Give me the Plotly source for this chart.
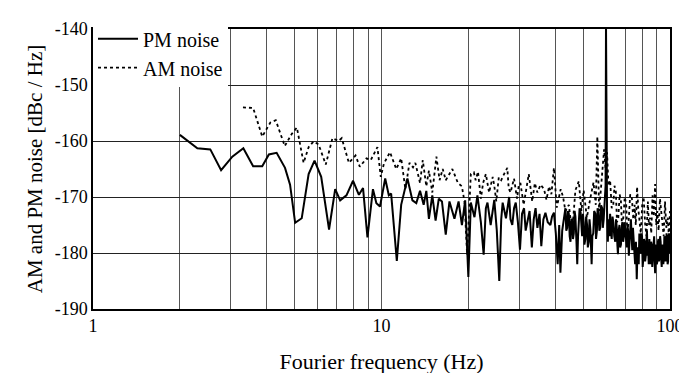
import plotly.graph_objects as go

pm_freq = [2.00, 2.30, 2.55, 2.78, 3.04, 3.32, 3.59, 3.86, 4.07, 4.33, 4.63, 4.82, 5.02, 5.29, 5.59,
           5.86, 6.18, 6.58, 6.91, 7.19, 7.56, 7.97, 8.35, 8.63, 8.94, 9.34, 9.60, 9.88, 10.3, 10.6,
           10.8, 11.3, 11.7, 12.0, 12.3, 12.8, 13.2, 13.6, 14.0, 14.3, 14.6, 15.0, 15.4, 15.8, 16.2,
           16.7, 17.2, 17.9, 18.5, 19.0, 19.5, 20.0, 20.4, 21.0, 21.5, 22.1, 22.6, 23.0, 23.3, 23.9,
           24.3, 24.6, 25.1, 25.6, 26.0, 26.3, 27.0, 27.4, 27.7, 28.0, 28.4, 28.8, 29.2, 29.7, 30.2,
           30.7, 31.2, 31.6, 32.0, 32.6, 33.2, 33.7, 34.2, 34.7, 35.3, 35.8, 36.4, 37.0, 37.7, 38.5,
           39.0, 39.6, 40.2, 40.8, 41.3, 41.7, 42.3, 42.8,
           43.4, 43.7, 44.0, 44.3, 44.6, 44.9, 45.2, 45.5, 45.8, 46.1, 46.4, 46.7, 47.0, 47.4, 47.7,
           48.0, 48.3, 48.6, 49.0, 49.3, 49.6, 49.9, 50.2, 50.5, 50.9, 51.2, 51.6, 51.9, 52.3, 52.6,
           53.0, 53.5, 53.8, 54.2, 54.6, 55.1, 55.4, 55.8, 56.1, 56.5, 56.9, 57.3, 57.7, 58.2, 58.5,
           58.9, 59.2, 59.5, 59.8, 60.0, 60.2,
           60.5, 60.9, 61.2, 61.6, 62.0, 62.4, 62.8, 63.2, 63.6, 64.1, 64.6, 65.0, 65.4, 65.7, 66.0,
           66.4, 66.8, 67.2, 67.6, 68.0, 68.4, 68.8, 69.2, 69.6, 70.0, 70.4, 70.8, 71.2, 71.6, 72.0,
           72.4, 72.8, 73.2, 73.6, 74.0, 74.4, 74.8, 75.2, 75.7, 76.2, 76.7, 77.1, 77.5, 77.9, 78.3,
           78.7, 79.1, 79.5, 80.0, 80.4, 80.8, 81.2, 81.6, 82.0, 82.4, 82.8, 83.2, 83.6, 84.0, 84.4,
           84.8, 85.2, 85.6, 86.0, 86.4, 86.8, 87.3, 87.7, 88.1, 88.4, 88.8, 89.2, 89.6, 90.0, 90.4,
           90.8, 91.2, 91.6, 92.0, 92.4, 92.8, 93.2, 93.6, 94.0, 94.4, 94.8, 95.2, 95.6, 96.1, 96.5,
           96.9, 97.3, 97.7, 98.1, 98.5, 98.9, 99.3, 99.7, 100.0]
pm_dbc = [-158.9, -161.3, -161.5, -165.2, -162.8, -161.3, -164.5, -164.5, -162.4, -162.1, -164.8, -167.8, -174.6, -173.8, -165.9,
          -163.5, -166.4, -175.8, -168.6, -170.6, -169.7, -167.1, -169.6, -168.4, -177.2, -168.6, -171.1, -171.7, -166.7, -169.7,
          -169.4, -181.4, -171.4, -169.2, -166.7, -170.6, -171.1, -168.9, -171.4, -168.9, -173.9, -169.7, -174.2, -170.3, -170.8,
          -176.7, -170.8, -173.9, -170.8, -175.0, -170.6, -184.3, -171.0, -173.6, -169.7, -174.5, -180.3, -172.0, -171.0, -175.0,
          -172.5, -170.5, -176.0, -185.0, -174.0, -171.0, -173.8, -171.5, -170.0, -174.0, -175.0, -172.0, -171.0, -174.5, -179.4,
          -173.0, -172.0, -176.0, -174.5, -172.5, -179.0, -174.0, -172.0, -175.5, -173.0, -178.8, -174.0, -172.8, -174.5, -175.0,
          -173.5, -172.8, -176.5, -182.0, -175.0, -183.5, -176.0, -173.8,
          -172.0, -176.0, -175.5, -172.5, -173.0, -177.0, -178.0, -174.0, -174.0, -177.5, -176.5, -172.5, -173.5, -178.0, -182.0,
          -177.0, -175.0, -172.0, -172.8, -176.5, -177.0, -173.0, -174.5, -178.5, -177.5, -173.5, -175.0, -179.0, -178.0, -174.0,
          -176.0, -182.0, -177.0, -176.5, -172.5, -173.0, -177.5, -176.0, -172.0, -172.5, -176.0, -175.5, -171.5, -172.0, -175.5,
          -174.0, -171.0, -171.0, -168.0, -139.0, -170.0,
          -172.5, -178.0, -174.0, -177.0, -173.0, -176.0, -177.5, -173.5, -174.5, -177.0, -178.0, -174.0, -175.5, -178.5, -180.2,
          -176.0, -175.0, -179.0, -178.5, -175.5, -174.5, -178.0, -177.0, -174.5, -175.5, -177.5, -179.0, -175.0, -176.0, -180.5,
          -178.0, -176.0, -174.0, -177.0, -179.5, -175.5, -177.0, -180.0, -182.0, -178.0, -184.7, -180.0, -179.0, -182.0, -176.5,
          -179.5, -180.0, -176.5, -177.0, -182.5, -181.0, -177.5, -178.0, -181.5, -180.5, -178.0, -176.0, -180.5, -179.0, -182.0,
          -177.5, -179.5, -182.0, -178.0, -178.5, -182.5, -180.0, -177.5, -177.0, -181.0, -183.6, -178.5, -179.0, -182.0, -181.5,
          -178.0, -177.5, -181.5, -180.5, -177.0, -178.0, -181.0, -182.5, -178.5, -179.0, -182.0, -181.0, -177.0, -177.5, -181.5,
          -180.0, -176.5, -178.0, -182.0, -181.5, -177.0, -176.5, -180.0, -178.0]

am_freq = [3.31, 3.59, 3.86, 4.12, 4.30, 4.62, 4.89, 5.09, 5.37, 5.59, 5.81, 6.05, 6.41, 6.76, 7.09,
           7.28, 7.71, 8.13, 8.41, 8.87, 9.18, 9.68, 9.94, 10.2, 10.7, 11.25, 11.7, 12.1, 12.5, 12.86,
           13.1, 13.6, 13.9, 14.3, 14.6, 15.0, 15.5, 15.9, 16.3, 16.7, 17.6, 18.4, 19.0, 19.4, 19.8,
           20.4, 20.9, 21.2, 21.6, 22.1, 22.5, 23.0, 23.6, 24.3, 24.6, 25.0, 25.5, 26.0, 26.6, 27.3,
           27.6, 28.0, 28.8, 29.5, 29.9, 30.3, 31.1, 31.8, 32.4, 33.3, 34.0, 34.7, 35.6, 36.6, 37.3,
           38.1, 38.8, 39.6, 40.5, 41.8, 42.6, 43.4, 44.5, 44.6, 45.8, 47.0, 48.3, 49.3, 50.2, 51.5,
           52.9, 54.3, 55.3, 56.0, 56.8, 58.0, 59.1, 59.8,
           60.5, 61.2, 62.0, 62.8, 63.6, 64.2, 64.9, 65.5, 66.2, 66.9, 67.6, 68.2, 68.9, 69.7, 70.5,
           71.1, 71.8, 72.8, 73.8, 74.6, 75.4, 76.1, 76.9, 77.6, 78.3, 79.2, 80.1, 81.0, 82.0, 82.9,
           83.8, 84.5, 85.3, 86.1, 87.0, 87.9, 88.8, 89.6, 90.4, 91.3, 92.3, 93.2, 94.1, 95.1, 96.1,
           97.1, 98.2, 99.1, 100.0]
am_dbc = [-154.0, -154.1, -159.2, -156.7, -156.3, -160.9, -158.7, -157.6, -163.9, -161.1, -160.1, -160.6, -164.2, -159.5, -160.0,
          -159.5, -163.9, -162.6, -164.6, -163.1, -163.4, -161.1, -166.4, -164.0, -162.0, -165.0, -163.1, -168.6, -163.9, -164.7,
          -163.9, -167.5, -163.4, -168.1, -165.3, -169.2, -162.8, -167.0, -165.0, -167.0, -165.0, -167.5, -168.1, -170.9, -180.3,
          -165.9, -165.6, -167.0, -165.5, -170.3, -167.5, -165.9, -169.2, -166.4, -168.0, -170.8, -166.5, -167.0, -165.9, -164.8,
          -168.5, -169.2, -166.7, -170.3, -168.0, -167.5, -171.4, -168.0, -165.9, -170.8, -167.5, -169.2, -167.8, -168.6, -170.5,
          -168.1, -169.5, -164.8, -171.9, -168.6, -170.0, -172.5, -171.4, -171.4, -176.3, -168.8, -167.2, -172.5, -168.8, -173.7,
          -170.3, -167.4, -171.4, -159.2, -172.5, -167.0, -161.5, -164.8,
          -162.0, -168.0, -167.0, -172.0, -171.4, -168.0, -169.0, -174.5, -173.7, -169.5, -170.8, -175.5, -173.7, -170.0, -171.4,
          -176.0, -174.8, -169.5, -170.3, -174.0, -171.4, -175.0, -168.2, -172.0, -173.7, -176.5, -171.4, -170.0, -174.8, -177.0,
          -170.8, -175.0, -173.7, -176.5, -169.7, -173.5, -167.7, -175.0, -172.5, -176.0, -170.3, -173.0, -174.2, -177.0, -170.8,
          -175.5, -173.7, -177.0, -172.5]

x_tickvals = [1, 2, 3, 4, 5, 6, 7, 8, 9, 10, 20, 30, 40, 50, 60, 70, 80, 90, 100]
x_ticktext = ["1", "", "", "", "", "", "", "", "", "10", "", "", "", "", "", "", "", "", "100"]
y_tickvals = [-190, -180, -170, -160, -150, -140]
y_ticktext = ["-190", "-180", "-170", "-160", "-150", "-140"]

font_family = "Liberation Serif, Times New Roman, serif"

fig = go.Figure()
fig.add_trace(go.Scatter(x=pm_freq, y=pm_dbc, mode="lines", name="PM noise",
                         line=dict(color="black", width=2)))
fig.add_trace(go.Scatter(x=am_freq, y=am_dbc, mode="lines", name="AM noise",
                         line=dict(color="black", width=1.8, dash="dot")))

fig.update_layout(
    width=687, height=373,
    margin=dict(l=85, r=23, t=11, b=61),
    paper_bgcolor="white", plot_bgcolor="white",
    font=dict(family=font_family, color="black", size=16),
    showlegend=True,
    legend=dict(x=0, y=1.035, xanchor="left", yanchor="top", bgcolor="white",
                font=dict(size=20, family=font_family), borderwidth=0,
                tracegroupgap=0, itemwidth=40),
    xaxis=dict(type="log", range=[0, 2], tickvals=x_tickvals, ticktext=x_ticktext,
               showgrid=True, gridcolor="#555", gridwidth=1,
               showline=True, linecolor="black", linewidth=1.5, mirror=True,
               ticks="", zeroline=False,
               title=dict(text="Fourier frequency (Hz)", font=dict(size=22, family=font_family), standoff=18),
               tickfont=dict(size=18)),
    yaxis=dict(range=[-190, -140], tickvals=y_tickvals, ticktext=y_ticktext,
               showgrid=True, gridcolor="#222", gridwidth=1,
               showline=True, linecolor="black", linewidth=1.5, mirror=True,
               ticks="", zeroline=False,
               title=dict(text="AM and PM noise [dBc / Hz]", font=dict(size=21, family=font_family), standoff=6),
               tickfont=dict(size=18)),
)

fig.write_html("out.html")
